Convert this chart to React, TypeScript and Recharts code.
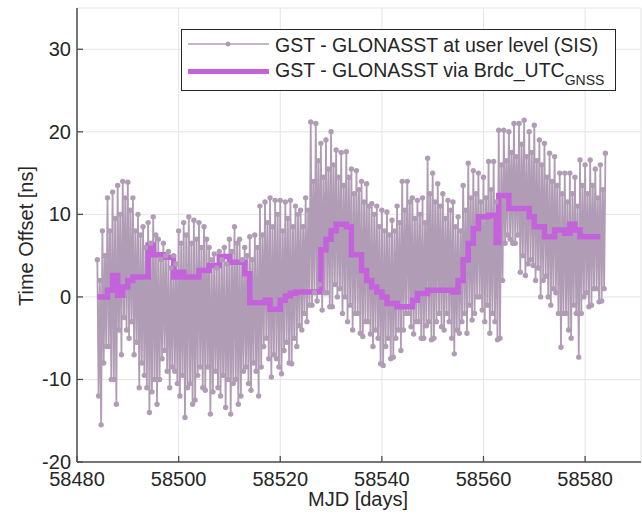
import React from "react";
import { CartesianGrid, Legend, Line, LineChart, XAxis, YAxis } from "recharts";

const FONT = "'Liberation Sans', Arial, sans-serif";
const AXIS = "#4d4d4d";
const GRID = "#e4e4e4";
const TEXT = "#262626";
const SIS_COLOR = "#b09cb4";
const BRDC_COLOR = "#c462dc";

const xTicks = [58480, 58500, 58520, 58540, 58560, 58580];
const yTicks = [-20, -10, 0, 10, 20, 30];

// SIS offsets, four samples per day starting at MJD 58484
const sisStart = 58484;
const sisStep = 0.25;
const sisValues = [
  4.5, -12, 2, -15.5, // 58484
  8, -8, 5, -6,
  12, -6, 8, -10,
  12.7, -10, 9.5, -13,
  13.5, -4, 10, -7,
  14, -2.5, 12, -4,
  13.9, -5, 10.5, -3, // 58490
  12, -7, 8, -5.5,
  10, -11, 7.5, -8,
  8.5, -9.5, 6, -11,
  9, -14, 6.5, -11.5,
  9.7, -10, 7.5, -13,
  7, -10, 4.5, -7.5,
  6.5, -6.5, 5, -9,
  5.5, -11, 3.5, -8.5,
  5, -9, 4, -10.5,
  8, -12, 6.5, -9.5, // 58500
  9, -14.6, 7.5, -11,
  9.7, -10.5, 6.5, -13,
  9.3, -12.5, 7, -9.5,
  9, -8.5, 6, -11,
  8.5, -11.3, 7, -8.5,
  6, -14.2, 4.5, -11.5,
  5.2, -9, 3.5, -11,
  5.5, -12, 4.5, -9.5,
  6, -13.4, 4, -10,
  7, -14.2, 5.5, -10.5, // 58510
  8.5, -10, 6.5, -13,
  7, -12, 4.5, -9,
  6, -8.5, 5, -10.5,
  7.3, -11.3, 4.5, -8,
  7.5, -9, 6, -12,
  11, -8.5, 7.5, -6,
  11.5, -5, 9, -7.5,
  12, -9.7, 8.5, -7,
  11.7, -7.5, 10, -8.5,
  11.7, -9.3, 8, -6.5, // 58520
  11.5, -5.5, 9.5, -8,
  11.7, -8.1, 8.5, -5,
  11, -6, 10, -3.5,
  10.5, -4, 8.5, -2,
  12, -3, 10.5, -1,
  21.2, -1, 14, 0.5,
  21, -0.5, 16.5, 1.5,
  18.6, -1.6, 14.5, 0.5,
  19, 0.5, 15.5, -1.2,
  20, -1.2, 16, 1.5, // 58530
  17.8, 0, 14.5, 1,
  17.5, -2, 13.5, 0,
  17.6, -3, 14.5, -1,
  15.5, -4, 12.5, -2,
  15.3, -2, 13, -4.4,
  14, -4.8, 11.5, -3,
  13.7, -3, 11, -4.5,
  11.3, -6, 10, -4,
  11, -5, 8.5, -8.1,
  10.5, -8.3, 8, -6, // 58540
  10.3, -5, 7.5, -7.5,
  9.3, -7.3, 8, -5,
  11, -4, 9, -6.5,
  14, -4, 10.5, -2,
  14, -2, 11.5, -3.6,
  12, -4.5, 9.5, -3,
  11.7, -3, 10, -5,
  12, -5, 9, -3.5,
  16.8, -3, 12.5, -5.2,
  15, -5, 11.5, -3, // 58550
  13.7, -2, 11, -3.6,
  12.5, -4, 9.5, -2,
  11.7, -3, 10.5, -5,
  11.5, -6.9, 8.5, -4,
  9.7, -4.4, 8, -3,
  13.5, -2, 10.5, -4.4,
  16.2, -1, 12, -2.8,
  15.3, -2, 12.5, 0,
  15, 0, 11.5, -1.6,
  14.5, -3, 12, -1, // 58560
  16.4, -4.4, 13, -2,
  16.4, -3, 11.5, -5.2,
  20.2, -5, 16, 2,
  20.2, 6.5, 16.5, 7.5,
  20, 7, 17.5, 6.5,
  21, 6.5, 17, 7.5,
  21, 3, 18.5, 5,
  21.4, 2.6, 17, 4,
  20, 4.5, 17.5, 3.8,
  20.8, 2, 16.5, 3.5, // 58570
  19, 0, 16, 2,
  18.6, 2.5, 14.5, 0,
  17.4, -1, 14, 1,
  17, 0.5, 13.5, -2,
  15, -6.1, 12.5, -2,
  15, -2, 11.5, -4,
  15, -5, 12.5, -1,
  14.5, -2, 11, -7.3,
  16.6, -2, 13.5, 0,
  16, 0.5, 12.5, -1.2, // 58580
  16.6, -1, 13.5, 1,
  15.5, 1, 12, -0.6,
  16, -0.5, 13, 1,
  17.4,
];

// broadcast UTC_GNSS offset, step changes
const brdcDays = [
  58484, 58486, 58487, 58488, 58489, 58490, 58491, 58494, 58495, 58497, 58499,
  58500, 58501, 58504, 58506, 58508, 58510, 58513, 58514, 58517, 58518, 58520,
  58521, 58522, 58523, 58528, 58529, 58530, 58531, 58533, 58534, 58536, 58537,
  58538, 58539, 58540, 58541, 58543, 58546, 58547, 58549, 58554, 58555, 58556,
  58557, 58558, 58559, 58561, 58562.5, 58563, 58565, 58569, 58570, 58572, 58574,
  58576, 58577, 58578, 58579, 58583,
];
const brdcValues = [
  0, 0.8, 2.6, 0.2, 1.2, 2.0, 2.4, 6.3, 5.1, 4.8, 2.4,
  3.0, 2.4, 3.2, 3.8, 4.9, 4.2, 2.8, -0.7, -0.4, -1.5, -0.4,
  0.1, 0.45, 0.6, 5.7, 7.0, 8.0, 8.8, 8.5, 5.1, 3.2, 2.0,
  1.2, 0.6, 0, -0.8, -1.2, -0.4, 0.4, 0.8, 0.6, 2.0, 4.5,
  6.5, 8.3, 9.7, 9.9, 6.6, 12.3, 10.7, 9.7, 8.5, 7.3, 8.1,
  7.7, 8.8, 8.1, 7.3, 7.3,
];

const sisData = sisValues.map((v, i) => ({ mjd: sisStart + i * sisStep, v }));
const brdcData = brdcDays.map((d, i) => ({ mjd: d, v: brdcValues[i] }));

function XTick({ x, y, payload }: any) {
  return (
    <g>
      <line x1={x} x2={x} y1={y} y2={y - 6} stroke={AXIS} strokeWidth={1.3} />
      <text x={x} y={y + 24} textAnchor="middle" fontSize={20} fill={TEXT} fontFamily={FONT}>
        {payload.value}
      </text>
    </g>
  );
}

function YTick({ x, y, payload }: any) {
  return (
    <g>
      <line x1={x} x2={x + 6} y1={y} y2={y} stroke={AXIS} strokeWidth={1.3} />
      <text x={x - 6} y={y + 7} textAnchor="end" fontSize={20} fill={TEXT} fontFamily={FONT}>
        {payload.value}
      </text>
    </g>
  );
}

function LegendBox() {
  return (
    <div
      style={{
        width: 435,
        height: 62,
        boxSizing: "border-box",
        border: `1px solid ${TEXT}`,
        background: "#fff",
      }}
    >
      <svg width={433} height={60} style={{ display: "block" }}>
        <line x1={6} x2={87} y1={14} y2={14} stroke={SIS_COLOR} strokeWidth={1.3} />
        <circle cx={46} cy={14} r={2.5} fill={SIS_COLOR} />
        <line x1={6} x2={87} y1={41.5} y2={41.5} stroke={BRDC_COLOR} strokeWidth={5} />
        <text x={93} y={21.5} fontSize={19.5} fill={TEXT} fontFamily={FONT}>
          GST - GLONASST at user level (SIS)
        </text>
        <text x={93} y={46.5} fontSize={19.5} fill={TEXT} fontFamily={FONT}>
          GST - GLONASST via Brdc_UTC
          <tspan fontSize={14} dy={8}>GNSS</tspan>
        </text>
      </svg>
    </div>
  );
}

export default function App() {
  return (
    <div style={{ position: "absolute", left: 0, top: 0, background: "#fff" }}>
      <LineChart width={642} height={518} margin={{ top: 8, right: 1, bottom: 0, left: 0 }}>
        <CartesianGrid stroke={GRID} strokeWidth={1} />
        <XAxis
          dataKey="mjd"
          type="number"
          domain={[58480, 58591]}
          ticks={xTicks}
          interval={0}
          height={56}
          tickSize={0}
          tickMargin={0}
          tickLine={false}
          tick={<XTick />}
          axisLine={{ stroke: AXIS, strokeWidth: 1.5 }}
          allowDataOverflow
          label={() => (
            <text x={358} y={506} textAnchor="middle" fontSize={20} fill={TEXT} fontFamily={FONT}>
              MJD [days]
            </text>
          )}
        />
        <YAxis
          type="number"
          domain={[-20, 35]}
          ticks={yTicks}
          interval={0}
          width={77}
          tickSize={0}
          tickMargin={0}
          tickLine={false}
          tick={<YTick />}
          axisLine={{ stroke: AXIS, strokeWidth: 1.5 }}
          allowDataOverflow
          label={() => (
            <text
              x={33}
              y={236}
              transform="rotate(-90, 33, 236)"
              textAnchor="middle"
              fontSize={20}
              fill={TEXT}
              fontFamily={FONT}
            >
              Time Offset [ns]
            </text>
          )}
        />
        <Legend
          layout="vertical"
          align="center"
          verticalAlign="middle"
          wrapperStyle={{ left: 181, top: 29, width: 435, height: 62 }}
          content={() => <LegendBox />}
        />
        <Line
          data={sisData}
          dataKey="v"
          type="linear"
          stroke={SIS_COLOR}
          strokeWidth={1.8}
          dot={{ r: 2.7, fill: SIS_COLOR, stroke: "none" }}
          activeDot={false}
          isAnimationActive={false}
        />
        <Line
          data={brdcData}
          dataKey="v"
          type="stepAfter"
          stroke={BRDC_COLOR}
          strokeWidth={5.5}
          dot={false}
          activeDot={false}
          isAnimationActive={false}
        />
      </LineChart>
    </div>
  );
}
